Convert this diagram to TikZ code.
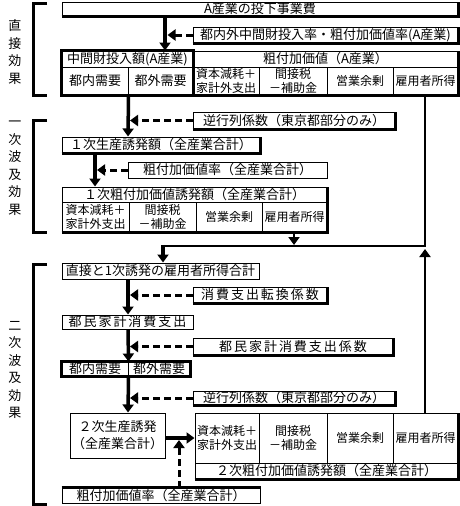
\documentclass[tikz,border=0pt]{standalone}
\usepackage{fontspec}
\newfontfamily\jp{Noto Sans CJK JP}
\newfontfamily\jpw{Noto Sans CJK JP}[LetterSpace=15]
\usetikzlibrary{arrows.meta}
\tikzset{
  cellst/.style={draw, line width=1pt, inner sep=0pt, align=center, font=\jp\fontsize{13}{15}\selectfont},
  subc/.style={font=\jp\fontsize{12}{14}\selectfont},
  widec/.style={font=\jpw\fontsize{13}{15}\selectfont},
  arr/.style={line width=3.5pt, -{Triangle[length=8pt,width=11pt]}},
  tarr/.style={line width=2.5pt, -{Triangle[length=8pt,width=11pt]}},
  darr/.style={line width=3pt, dash pattern=on 7pt off 4pt, -{Triangle[length=8pt,width=11pt]}},
  conn/.style={line width=2.5pt},
  brk/.style={line width=3pt},
  heavy/.style={line width=2.2pt},
  lbl/.style={font=\jp\fontsize{13}{17.5}\selectfont, align=center, inner sep=0pt},
}
\newcommand\mkcell[7][]{\node[cellst,minimum width={#5pt-#3pt},minimum height={#6pt-#4pt},#1] (#2) at ({(#3+#5)/2},{(#4+#6)/2}) {#7};}
\begin{document}
\begin{tikzpicture}[x=1pt,y=-1pt]
\fill[white] (0,0) rectangle (460,506);
\useasboundingbox (0,0) rectangle (460,506);

% brackets and labels
\draw[brk] (47,3) -- (33,3) -- (33,95) -- (47,95);
\draw[brk] (47,120) -- (33,120) -- (33,232) -- (47,232);
\draw[brk] (47,264) -- (33,264) -- (33,504) -- (47,504);
\node[lbl] (l1) at (15,52) {直\\接\\効\\果};
\node[lbl] (l2) at (15,168) {一\\次\\波\\及\\効\\果};
\node[lbl] (l3) at (15,370) {二\\次\\波\\及\\効\\果};

% direct effect
\mkcell{top}{62}{2}{458}{16}{A産業の投下事業費}
\draw[heavy] (top.south west) -- (top.south east) -- (top.north east);
\mkcell{rt1}{193}{27}{458}{43}{都内外中間財投入率・粗付加価値率(A産業)}
\draw[heavy] (rt1.south west) -- (rt1.south east) -- (rt1.north east);
\mkcell{mt}{62}{51}{193}{67}{中間財投入額(A産業)}
\mkcell{mi}{62}{67}{128}{95}{都内需要}
\mkcell{mo}{128}{67}{193}{95}{都外需要}
\draw[line width=2.6pt] (mt.north west) rectangle (mo.south east);
\mkcell{gt}{193}{51}{458}{67}{粗付加価値（A産業）}
\mkcell[subc]{ga}{193}{67}{259}{95}{資本減耗＋\\家計外支出}
\mkcell[subc]{gb}{259}{67}{327}{95}{間接税\\－補助金}
\mkcell[subc]{gc}{327}{67}{393}{95}{営業余剰}
\mkcell[subc]{gd}{393}{67}{458}{95}{雇用者所得}
\draw[heavy] (ga.south west) -- (gd.south east) -- (gt.north east);

% first-round effect
\mkcell{iv1}{193}{112}{395}{129}{逆行列係数（東京都部分のみ）}
\draw[heavy] (iv1.south west) -- (iv1.south east) -- (iv1.north east);
\mkcell{p1}{62}{137}{260}{153}{１次生産誘発額（全産業合計）}
\draw[heavy] (p1.south west) -- (p1.south east) -- (p1.north east);
\mkcell{r1}{128}{162}{327}{178}{粗付加価値率（全産業合計）}
\mkcell{vt}{62}{187}{327}{202}{１次粗付加価値誘発額（全産業合計）}
\mkcell[subc]{va}{62}{202}{129}{232}{資本減耗＋\\家計外支出}
\mkcell[subc]{vb}{129}{202}{196}{232}{間接税\\－補助金}
\mkcell[subc]{vc}{196}{202}{262}{232}{営業余剰}
\mkcell[subc]{vd}{262}{202}{327}{232}{雇用者所得}
\draw[heavy] (va.south west) -- (vd.south east) -- (vt.north east);

% second-round effect
\mkcell{emp}{62}{263}{259}{279}{直接と1次誘発の雇用者所得合計}
\mkcell[widec]{cv}{193}{287}{327}{303}{消費支出転換係数}
\draw[heavy] (cv.south west) -- (cv.south east) -- (cv.north east);
\mkcell[widec]{hh}{62}{315}{193}{329}{都民家計消費支出}
\mkcell[widec]{hhc}{193}{338}{393}{355}{都民家計消費支出係数}
\draw[heavy] (hhc.south west) -- (hhc.south east) -- (hhc.north east);
\mkcell{dmi}{62}{362}{128}{376}{都内需要}
\mkcell{dmo}{128}{362}{190}{376}{都外需要}
\draw[heavy] (dmi.north west) rectangle (dmo.south east);
\mkcell{iv2}{193}{391}{395}{405}{逆行列係数（東京都部分のみ）}
\draw[heavy] (iv2.south west) -- (iv2.south east) -- (iv2.north east);
\mkcell[font=\jp\fontsize{13}{17}\selectfont]{p2}{70}{413}{165}{458}{２次生産誘発\\（全産業合計）}
\mkcell[subc]{wa}{195}{413}{259}{463}{資本減耗＋\\家計外支出}
\mkcell[subc]{wb}{259}{413}{327}{463}{間接税\\－補助金}
\mkcell[subc]{wc}{327}{413}{393}{463}{営業余剰}
\mkcell[subc]{wd}{393}{413}{458}{463}{雇用者所得}
\mkcell{wt}{195}{463}{458}{479}{２次粗付加価値誘発額（全産業合計）}
\draw[heavy] (wt.south west) -- (wt.south east) -- (wd.north east);
\mkcell{r2}{62}{488}{260}{503}{粗付加価値率（全産業合計）}
\draw[heavy] (r2.north west) -- (r2.north east);

% coordinates for connector lines
\coordinate (xa) at (165,0);
\coordinate (ea) at (167.5,0);
\coordinate (xb) at (128,0);
\coordinate (eb) at (130,0);
\coordinate (xc) at (95,0);
\coordinate (ec) at (97,0);
\coordinate (xd) at (425,0);
\coordinate (jr) at (425,246);
\coordinate (jl) at (163,246);
\coordinate (xe) at (294,0);
\coordinate (je) at (294,245);
\coordinate (tp) at (425,249);
\coordinate (ya) at (0,438);
\coordinate (xf) at (179,0);
\coordinate (tf) at (179,440);

% connectors: direct
\draw[arr] (top.south -| xa) -- (mt.north -| xa);
\draw[darr] (rt1.west) -- (rt1.west -| ea);
% first round
\draw[arr] (mi.south east) -- (p1.north -| xb);
\draw[darr] (iv1.west) -- (iv1.west -| eb);
\draw[arr] (p1.south -| xc) -- (vt.north -| xc);
\draw[darr] (r1.west) -- (r1.west -| ec);
% feedback
\draw[conn] (gd.south -| xd) -- (jr) -- (jl);
\draw[arr] ([yshift=1.2pt]jl) -- (emp.north -| jl);
\draw[tarr] (vd.south -| xe) -- (je);
\draw[tarr] (wd.north -| xd) -- (tp);
% second round
\draw[arr] (emp.south -| xb) -- (hh.north -| xb);
\draw[darr] (cv.west) -- (cv.west -| eb);
\draw[arr] (hh.south -| xb) -- (dmi.north east);
\draw[darr] (hhc.west) -- (hhc.west -| eb);
\draw[arr] (dmi.south east) -- (p2.north -| xb);
\draw[darr] (iv2.west) -- (iv2.west -| eb);
\draw[arr] (p2.east |- ya) -- (wa.west |- ya);
\draw[darr] (r2.north -| xf) -- (tf);
\end{tikzpicture}
\end{document}
